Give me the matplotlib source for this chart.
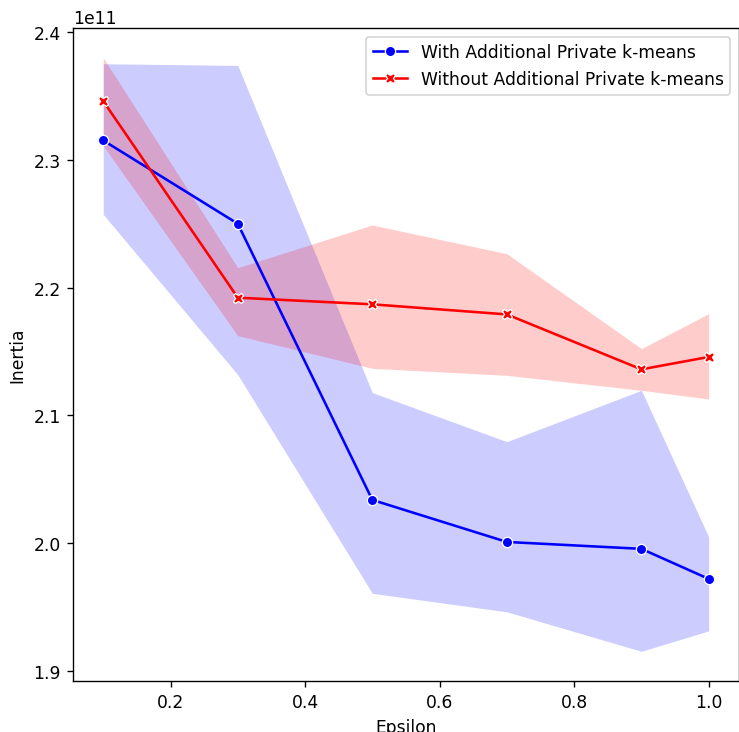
import numpy as np
import matplotlib
matplotlib.use("Agg")
import matplotlib.pyplot as plt

# epsilon values used in the experiment
epsilon = [0.1, 0.3, 0.5, 0.7, 0.9, 1.0]

# inertia (x1e11): mean and confidence band
with_mean = [2.3152, 2.2500, 2.0338, 2.0009, 1.9955, 1.9720]
with_low = [2.2573, 2.1318, 1.9607, 1.9462, 1.9153, 1.9313]
with_high = [2.3752, 2.3739, 2.1178, 2.0794, 2.1196, 2.0049]

without_mean = [2.3460, 2.1921, 2.1869, 2.1790, 2.1360, 2.1457]
without_low = [2.3110, 2.1624, 2.1368, 2.1313, 2.1196, 2.1128]
without_high = [2.3799, 2.2156, 2.2490, 2.2265, 2.1522, 2.1796]

scale = 1e11

# smaller figure at a higher dpi -> same pixel size, larger text
fig = plt.figure(figsize=(6.0, 5.943), dpi=123.33)
ax = fig.add_axes([0.0986, 0.0696, 0.9, 0.8908])

ax.fill_between(epsilon, np.array(with_low) * scale, np.array(with_high) * scale,
                color='blue', alpha=0.2, linewidth=0)
ax.plot(epsilon, np.array(with_mean) * scale, color='blue', marker='o', markersize=6,
        markeredgecolor='white', markeredgewidth=0.75, linewidth=1.5,
        label='With Additional Private k-means')

ax.fill_between(epsilon, np.array(without_low) * scale, np.array(without_high) * scale,
                color='red', alpha=0.2, linewidth=0)
ax.plot(epsilon, np.array(without_mean) * scale, color='red', marker='X', markersize=6,
        markeredgecolor='white', markeredgewidth=0.75, linewidth=1.5,
        label='Without Additional Private k-means')

ax.set_xlabel('Epsilon')
ax.set_ylabel('Inertia')
ax.legend(loc='upper right')

fig.savefig('out.png', dpi=123.33)
